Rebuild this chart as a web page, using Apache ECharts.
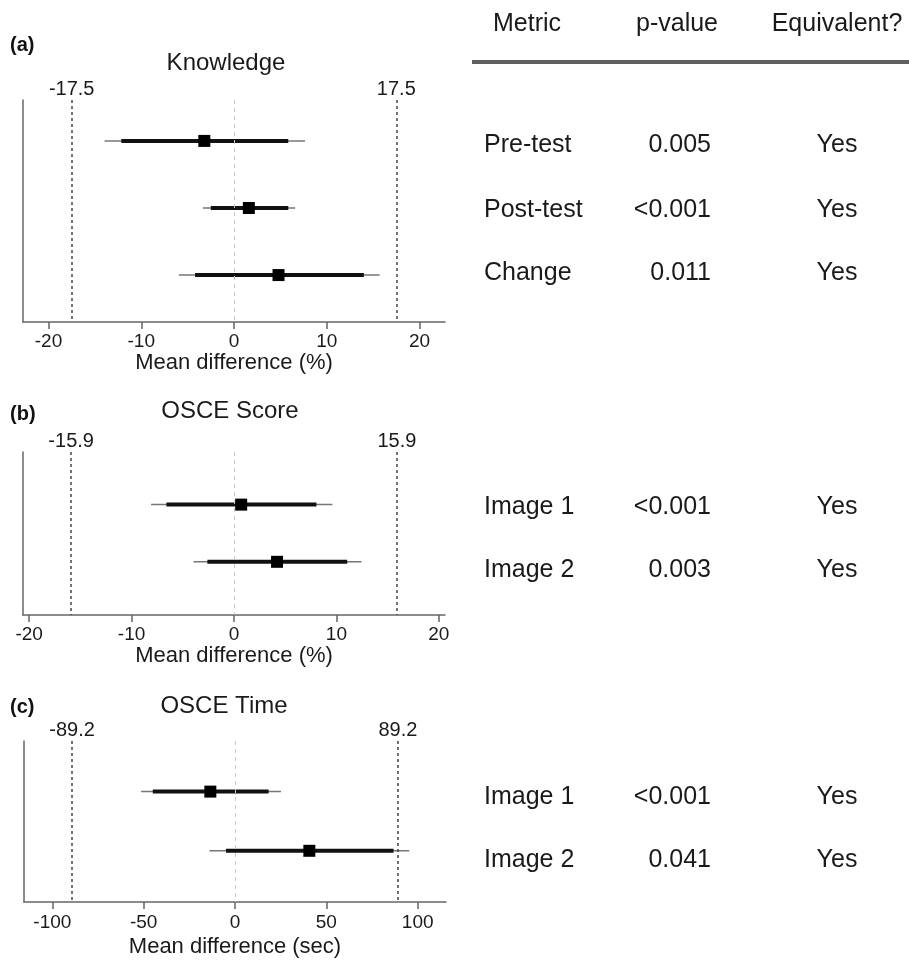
<!DOCTYPE html>
<html>
<head>
<meta charset="utf-8">
<script src="https://cdn.jsdelivr.net/npm/echarts@6/dist/echarts.min.js"></script>
<style>
html,body{margin:0;padding:0;background:#fff;}
#chart{width:909px;height:963px;}
</style>
</head>
<body>
<div id="chart"></div>
<script>
// ---------- DATA ----------
// Panel (a) Knowledge
const knowledgeRows = [1, 2, 3];
const knowledgeMetric = ['Pre-test', 'Post-test', 'Change'];
const knowledgeP = ['0.005', '<0.001', '0.011'];
const knowledgeEq = ['Yes', 'Yes', 'Yes'];
const knowledgeMean = [-3.2, 1.6, 4.8];
const knowledgeCI90Lo = [-12.15, -2.5, -4.2];
const knowledgeCI90Hi = [5.85, 5.85, 14.0];
const knowledgeCI95Lo = [-13.95, -3.35, -5.95];
const knowledgeCI95Hi = [7.65, 6.6, 15.7];
const knowledgeMargin = 17.5;
const knowledgeTicks = [-20, -10, 0, 10, 20];

// Panel (b) OSCE Score
const scoreRows = [1, 2];
const scoreMetric = ['Image 1', 'Image 2'];
const scoreP = ['<0.001', '0.003'];
const scoreEq = ['Yes', 'Yes'];
const scoreMean = [0.7, 4.2];
const scoreCI90Lo = [-6.6, -2.6];
const scoreCI90Hi = [8.05, 11.05];
const scoreCI95Lo = [-8.1, -3.95];
const scoreCI95Hi = [9.6, 12.45];
const scoreMargin = 15.9;
const scoreTicks = [-20, -10, 0, 10, 20];

// Panel (c) OSCE Time
const timeRows = [1, 2];
const timeMetric = ['Image 1', 'Image 2'];
const timeP = ['<0.001', '0.041'];
const timeEq = ['Yes', 'Yes'];
const timeMean = [-13.5, 40.7];
const timeCI90Lo = [-45.0, -4.9];
const timeCI90Hi = [18.4, 86.8];
const timeCI95Lo = [-51.4, -14.0];
const timeCI95Hi = [25.2, 95.4];
const timeMargin = 89.2;
const timeTicks = [-100, -50, 0, 50, 100];

const panelTags = ['(a)', '(b)', '(c)'];
const panelTitles = ['Knowledge', 'OSCE Score', 'OSCE Time'];
const axisNames = ['Mean difference (%)', 'Mean difference (%)', 'Mean difference (sec)'];
const tableHeaders = ['Metric', 'p-value', 'Equivalent?'];

// ---------- LAYOUT ----------
const FONT = "'Liberation Sans', Arial, Helvetica, sans-serif";
const panels = [
  { rows: knowledgeRows, mean: knowledgeMean, lo90: knowledgeCI90Lo, hi90: knowledgeCI90Hi,
    lo95: knowledgeCI95Lo, hi95: knowledgeCI95Hi, margin: knowledgeMargin, ticks: knowledgeTicks,
    metric: knowledgeMetric, p: knowledgeP, eq: knowledgeEq,
    grid: { left: 23, top: 100, width: 422, height: 222 },
    xr: [-22.75, 22.75], yr: [0.39, 3.70], nameGap: 29, labelMargin: 10,
    tagY: 46, titleY: 63, titleX: 226, tableY: [145, 210, 273] },
  { rows: scoreRows, mean: scoreMean, lo90: scoreCI90Lo, hi90: scoreCI90Hi,
    lo95: scoreCI95Lo, hi95: scoreCI95Hi, margin: scoreMargin, ticks: scoreTicks,
    metric: scoreMetric, p: scoreP, eq: scoreEq,
    grid: { left: 23, top: 452, width: 422, height: 163 },
    xr: [-20.6, 20.6], yr: [0.08, 2.93], nameGap: 29, labelMargin: 10,
    tagY: 415, titleY: 411, titleX: 230, tableY: [507, 570] },
  { rows: timeRows, mean: timeMean, lo90: timeCI90Lo, hi90: timeCI90Hi,
    lo95: timeCI95Lo, hi95: timeCI95Hi, margin: timeMargin, ticks: timeTicks,
    metric: timeMetric, p: timeP, eq: timeEq,
    grid: { left: 24, top: 741, width: 422, height: 161 },
    xr: [-115.5, 115.5], yr: [0.145, 2.865], nameGap: 34, labelMargin: 11,
    tagY: 708, titleY: 706, titleX: 224, tableY: [797, 860] }
];

const grids = [], xAxes = [], yAxes = [], series = [], graphics = [];

panels.forEach((pn, i) => {
  grids.push(Object.assign({ containLabel: false }, pn.grid));
  xAxes.push({
    type: 'value', gridIndex: i, min: pn.xr[0], max: pn.xr[1],
    name: axisNames[i], nameLocation: 'middle', nameGap: pn.nameGap,
    nameTextStyle: { fontFamily: FONT, fontSize: 22, color: '#1a1a1a' },
    axisLine: { show: true, onZero: false, lineStyle: { color: '#666', width: 1.5 } },
    axisTick: { show: true, length: 7, customValues: pn.ticks, lineStyle: { color: '#666', width: 1.5 } },
    axisLabel: { customValues: pn.ticks, margin: pn.labelMargin, fontFamily: FONT, fontSize: 19, color: '#1a1a1a' },
    splitLine: { show: false }
  });
  yAxes.push({
    type: 'value', gridIndex: i, inverse: true, min: pn.yr[0], max: pn.yr[1],
    axisLine: { show: true, onZero: false, lineStyle: { color: '#666', width: 1.5 } },
    axisTick: { show: false }, axisLabel: { show: false }, splitLine: { show: false }
  });

  // reference lines (equivalence margins and zero)
  series.push({
    type: 'line', xAxisIndex: i, yAxisIndex: i, data: [], z: 1, silent: true,
    markLine: {
      symbol: 'none', silent: true, animation: false,
      data: [
        { xAxis: 0, lineStyle: { color: '#c8c8c8', type: [4, 4], width: 1 }, label: { show: false } },
        { xAxis: -pn.margin },
        { xAxis: pn.margin }
      ],
      lineStyle: { color: '#444', type: [3, 3], width: 1.5 },
      label: { show: true, position: 'start', distance: 1, formatter: p => String(p.value),
               fontFamily: FONT, fontSize: 20, color: '#1a1a1a' }
    }
  });

  // forest marks
  const data = pn.rows.map((r, k) => [r, pn.mean[k], pn.lo90[k], pn.hi90[k], pn.lo95[k], pn.hi95[k]]);
  series.push({
    type: 'custom', xAxisIndex: i, yAxisIndex: i, z: 3, clip: false,
    encode: { x: [1, 2, 3, 4, 5], y: 0 },
    data: data,
    renderItem: function (params, api) {
      const row = api.value(0);
      const c = api.coord([api.value(1), row]);
      const a90 = api.coord([api.value(2), row]);
      const b90 = api.coord([api.value(3), row]);
      const a95 = api.coord([api.value(4), row]);
      const b95 = api.coord([api.value(5), row]);
      const s = 12;
      return {
        type: 'group',
        children: [
          { type: 'line', shape: { x1: a95[0], y1: c[1], x2: b95[0], y2: c[1] }, style: { stroke: '#777', lineWidth: 1.5 } },
          { type: 'line', shape: { x1: a90[0], y1: c[1], x2: b90[0], y2: c[1] }, style: { stroke: '#111', lineWidth: 4 } },
          { type: 'rect', shape: { x: c[0] - s / 2, y: c[1] - s / 2, width: s, height: s }, style: { fill: '#000' } }
        ]
      };
    }
  });

  // panel tag and title
  graphics.push({ type: 'text', left: 10, top: pn.tagY - 11,
    style: { text: panelTags[i], font: 'bold 20px ' + FONT, fill: '#111' } });
  graphics.push({ type: 'text', x: pn.titleX, y: pn.titleY,
    style: { text: panelTitles[i], font: '24px ' + FONT, fill: '#1a1a1a', textAlign: 'center', textVerticalAlign: 'middle' } });

  // table rows
  pn.metric.forEach((m, k) => {
    const y = pn.tableY[k];
    graphics.push({ type: 'text', x: 484, y: y,
      style: { text: m, font: '25px ' + FONT, fill: '#1a1a1a', textAlign: 'left', textVerticalAlign: 'middle' } });
    graphics.push({ type: 'text', x: 711, y: y,
      style: { text: pn.p[k], font: '25px ' + FONT, fill: '#1a1a1a', textAlign: 'right', textVerticalAlign: 'middle' } });
    graphics.push({ type: 'text', x: 837, y: y,
      style: { text: pn.eq[k], font: '25px ' + FONT, fill: '#1a1a1a', textAlign: 'center', textVerticalAlign: 'middle' } });
  });
});

// table header
graphics.push({ type: 'text', x: 493, y: 24,
  style: { text: tableHeaders[0], font: '25px ' + FONT, fill: '#1a1a1a', textAlign: 'left', textVerticalAlign: 'middle' } });
graphics.push({ type: 'text', x: 677, y: 24,
  style: { text: tableHeaders[1], font: '25px ' + FONT, fill: '#1a1a1a', textAlign: 'center', textVerticalAlign: 'middle' } });
graphics.push({ type: 'text', x: 837, y: 24,
  style: { text: tableHeaders[2], font: '25px ' + FONT, fill: '#1a1a1a', textAlign: 'center', textVerticalAlign: 'middle' } });
graphics.push({ type: 'rect', shape: { x: 472, y: 60, width: 437, height: 4 }, style: { fill: '#5f5f5f' } });

const chart = echarts.init(document.getElementById('chart'), null, { renderer: 'canvas' });
chart.setOption({
  animation: false,
  backgroundColor: '#fff',
  grid: grids,
  xAxis: xAxes,
  yAxis: yAxes,
  series: series,
  graphic: graphics
});
</script>
</body>
</html>
